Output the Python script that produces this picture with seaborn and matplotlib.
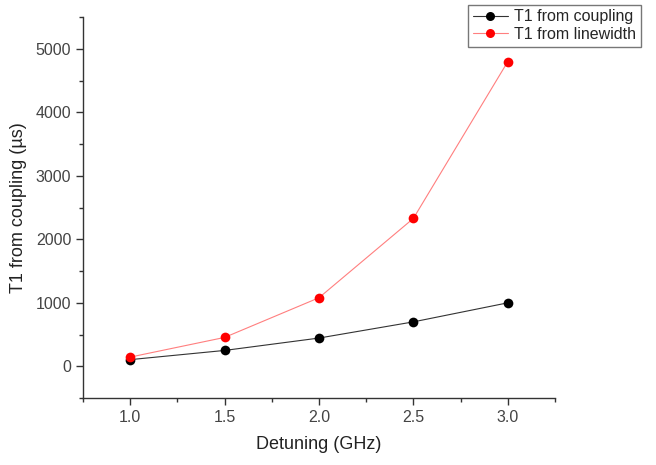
import numpy as np
import pandas as pd
import matplotlib
matplotlib.use("Agg")
import matplotlib.pyplot as plt
from matplotlib.ticker import MultipleLocator
import seaborn as sns

# Data
detuning = [1.0, 1.5, 2.0, 2.5, 3.0]
t1_coupling = [105, 250, 445, 700, 1000]
t1_linewidth = [145, 455, 1080, 2330, 4800]
series_names = ["T1 from coupling", "T1 from linewidth"]
series_colors = ["black", "red"]
line_colors = ["#333333", "#ff7f7f"]

df = pd.DataFrame({
    "Detuning": detuning * 2,
    "T1": t1_coupling + t1_linewidth,
    "Series": [series_names[0]] * len(detuning) + [series_names[1]] * len(detuning),
})

sns.set_style("ticks")
plt.rcParams['font.family'] = ['Liberation Sans', 'DejaVu Sans']

fig = plt.figure(figsize=(6.56, 4.65), dpi=100)
ax = fig.add_axes([0.1265, 0.144, 0.7195, 0.819])

sns.lineplot(data=df, x="Detuning", y="T1", hue="Series",
             palette=dict(zip(series_names, series_colors)),
             marker="o", markersize=7, markeredgewidth=0,
             linewidth=0.8, ax=ax, legend=False)

# lighter connecting lines, solid markers (Origin look)
for line, mc, lc in zip(ax.lines, series_colors, line_colors):
    line.set_color(lc)
    line.set_markerfacecolor(mc)
    line.set_markeredgecolor(mc)

ax.set_xlim(0.75, 3.25)
ax.set_ylim(-500, 5500)
ax.xaxis.set_major_locator(MultipleLocator(0.5))
ax.xaxis.set_minor_locator(MultipleLocator(0.25))
ax.yaxis.set_major_locator(MultipleLocator(1000))
ax.yaxis.set_minor_locator(MultipleLocator(500))
ax.set_xticks([1.0, 1.5, 2.0, 2.5, 3.0])
ax.set_xticklabels(["1.0", "1.5", "2.0", "2.5", "3.0"])

ax.tick_params(which="major", direction="out", length=5, width=1, labelsize=11.5, colors="#333333", labelcolor="#444444")
ax.tick_params(which="minor", direction="out", length=3, width=1, colors="#333333")
for s in ["top", "right"]:
    ax.spines[s].set_visible(False)
for s in ["left", "bottom"]:
    ax.spines[s].set_color("#333333")
    ax.spines[s].set_linewidth(1)

ax.set_xlabel("Detuning (GHz)", fontsize=13, color="#222222", labelpad=8)
ax.set_ylabel("T1 from coupling (µs)", fontsize=13, color="#222222", labelpad=6)

handles = [plt.Line2D([], [], color=lc, marker="o", markersize=6.5, markerfacecolor=mc,
                      markeredgewidth=0, linewidth=0.8)
           for mc, lc in zip(series_colors, line_colors)]
leg = fig.legend(handles, series_names, loc="upper right", bbox_to_anchor=(0.982, 0.997),
                 fontsize=11.5, frameon=True, fancybox=False, borderpad=0.3,
                 handlelength=2.2, labelspacing=0.15, handletextpad=0.4, borderaxespad=0.2)
leg.get_frame().set_edgecolor("#555555")
leg.get_frame().set_linewidth(1)

fig.savefig("out.png", dpi=100)
